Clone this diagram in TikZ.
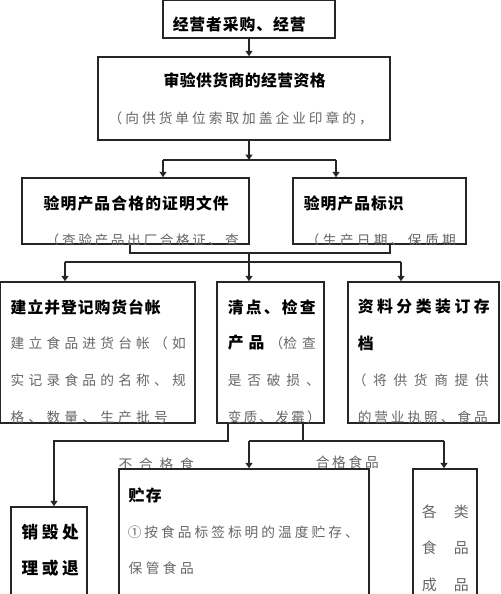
\documentclass[tikz,border=0pt]{standalone}
\usepackage{fontspec}
\newfontfamily\zh{Noto Sans CJK SC}
\usetikzlibrary{arrows.meta}
\newlength\px
\setlength\px{0.02cm}
\makeatletter
\newcommand\spr[2]{\makebox[#1\px][s]{\spr@a#2\@nil}}
\def\spr@a#1{#1\spr@b}
\def\spr@b#1{\ifx#1\@nil\else\hfil#1\expandafter\spr@b\fi}
\makeatother

\begin{document}
\begin{tikzpicture}[x=0.02cm,y=-0.02cm,>={Triangle[length=3pt,width=3.8pt]},line width=0.85pt,draw=black!85]
		\tikzstyle{box}=[draw,fill=white,inner sep=0]
		\tikzstyle{ttl}=[anchor=west,inner sep=0,font=\zh\bfseries\fontsize{9}{10}\selectfont]
		\tikzstyle{txt}=[anchor=west,inner sep=0,text=black!60,font=\zh\fontsize{7.8}{9}\selectfont]

		\path[use as bounding box] (0,0) rectangle (500,594);
		\clip (0,0) rectangle (500,594);

		\node[box,minimum width=172\px,minimum height=38\px] (buy) at (249,19) {};
		\node[box,minimum width=292\px,minimum height=83\px] (audit) at (244,98.5) {};
		\node[box,minimum width=227\px,minimum height=66\px] (cert) at (135.5,211) {};
		\node[box,minimum width=173\px,minimum height=66\px] (mark) at (379.5,211) {};
		\node[box,minimum width=195\px,minimum height=141\px] (ledger) at (97.5,352.5) {};
		\node[box,minimum width=107\px,minimum height=141\px] (check) at (270.5,352.5) {};
		\node[box,minimum width=151\px,minimum height=141\px] (file) at (423.5,352.5) {};
		\node[box,minimum width=76\px,minimum height=133\px] (destroy) at (49,573.5) {};
		\node[box,minimum width=250\px,minimum height=171\px] (store) at (244,554.5) {};
		\node[box,minimum width=64\px,minimum height=171\px] (goods) at (445,554.5) {};

		\coordinate (s1) at (249,160);
		\coordinate (s1l) at (163,160);
		\coordinate (s1r) at (336,160);
		\draw[->] (buy.south) -- (buy.south |- audit.north);
		\draw[->] (s1 |- audit.south) -- (s1);
		\draw (s1l) -- (s1r);
		\draw[->] (s1l) -- (s1l |- cert.north);
		\draw[->] (s1r) -- (s1r |- mark.north);

		\coordinate (s2l) at (130,253);
		\coordinate (s2r) at (390,253);
		\coordinate (s3) at (249,262);
		\coordinate (s3l) at (65,262);
		\coordinate (s3r) at (401,262);
		\draw (s2l |- cert.south) -- (s2l) -- (s2r) -- (s2r |- mark.south);
		\draw (s3 |- s2l) -- (s3);
		\draw (s3l) -- (s3r);
		\foreach \a/\b in {s3l/ledger,s3/check,s3r/file}
			\draw[->] (\a) -- (\a |- \b.north);

		\coordinate (s4l) at (228,441);
		\coordinate (s4a) at (54,441);
		\coordinate (s4r) at (303,441);
		\coordinate (s5l) at (249,441);
		\coordinate (s5r) at (444,441);
		\draw[->] (s4l |- check.south) -- (s4l) -- (s4a) -- (s4a |- destroy.north);
		\draw (s4r |- check.south) -- (s4r);
		\draw (s5l) -- (s5r);
		\draw[->] (s5l) -- (s5l |- store.north);
		\draw[->] (s5r) -- (s5r |- goods.north);

		\begin{scope}
			\clip (100,440) rectangle (400,467);
			\node[txt] (bad) at (118,464) {\spr{75}{不合格食}};
			\node[txt] (good) at (315,462) {\spr{63}{合格食品}};
		\end{scope}

		\node[ttl] (buy-t) at (172,24) {\spr{133}{经营者采购、经营}};
		\node[ttl] (audit-t) at (163,80) {\spr{162}{审验供货商的经营资格}};
		\node[txt] (audit-a) at (108,118) {\spr{264}{（向供货单位索取加盖企业印章的，}};

		\node[ttl] (cert-t) at (43,203) {\spr{185}{验明产品合格的证明文件}};
		\node[ttl] (mark-t) at (303,203) {\spr{100}{验明产品标识}};
		\begin{scope}
			\clip (cert.south west) rectangle (cert.north east);
			\node[txt] (cert-a) at (45,240) {\spr{193}{（查验产品出厂合格证、查}};
		\end{scope}
		\begin{scope}
			\clip (mark.south west) rectangle (mark.north east);
			\node[txt] (mark-a) at (305,240) {\spr{150}{（生产日期、保质期}};
		\end{scope}

		\begin{scope}
			\clip (ledger.south west) rectangle (ledger.north east);
			\node[ttl] (ledger-t) at (10,307) {\spr{150}{建立并登记购货台帐}};
			\node[txt] (ledger-a) at (10,343) {\spr{175}{建立食品进货台帐（如}};
			\node[txt] (ledger-b) at (10,380) {\spr{175}{实记录食品的名称、规}};
			\node[txt] (ledger-c) at (10,417) {\spr{157}{格、数量、生产批号}};
		\end{scope}
		\begin{scope}
			\clip (check.south west) rectangle (check.north east);
			\node[ttl] (check-t) at (227,307) {\spr{88}{清点、检查}};
			\node[ttl] (check-a) at (227,343) {\makebox[88\px][s]{产\hfil 品\hfil{\mdseries\color{black!60}\fontsize{7.8}{9}\selectfont（检\hfil 查}}};
			\node[txt] (check-b) at (227,380) {\spr{92}{是否破损、}};
			\node[txt] (check-c) at (227,417) {\spr{93}{变质、发霉）}};
		\end{scope}
		\begin{scope}
			\clip (file.south west) rectangle (file.north east);
			\node[ttl] (file-t) at (357,307) {\spr{132}{资料分类装订存}};
			\node[ttl] (file-a) at (357,343) {档};
			\node[txt] (file-b) at (352,380) {\spr{136}{（将供货商提供}};
			\node[txt] (file-c) at (357,417) {\spr{130}{的营业执照、食品}};
		\end{scope}

		\node[ttl,font=\zh\bfseries\fontsize{9.5}{10}\selectfont] (destroy-t) at (21,532) {\spr{57}{销毁处}};
		\node[ttl,font=\zh\bfseries\fontsize{9.5}{10}\selectfont] (destroy-a) at (21,568) {\spr{57}{理或退}};

		\node[ttl] (store-t) at (128,495) {\spr{33}{贮存}};
		\node[txt] (store-a) at (127,532) {\spr{231}{①按食品标签标明的温度贮存、}};
		\node[txt] (store-b) at (128,568) {\spr{65}{保管食品}};

		\node[txt,font=\zh\fontsize{8.5}{9}\selectfont] (goods-t) at (421,512) {\spr{47}{各类}};
		\node[txt,font=\zh\fontsize{8.5}{9}\selectfont] (goods-a) at (421,548) {\spr{47}{食品}};
		\node[txt,font=\zh\fontsize{8.5}{9}\selectfont] (goods-b) at (421,585) {\spr{47}{成品}};
	\end{tikzpicture}
\end{document}
